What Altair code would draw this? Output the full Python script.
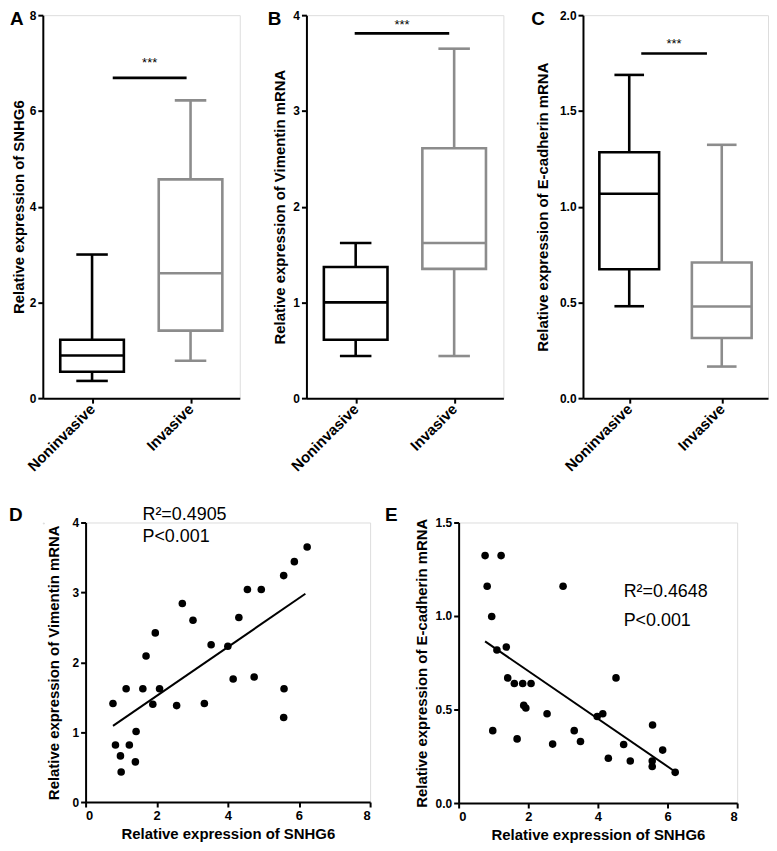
import altair as alt
import pandas as pd

FONT = "Liberation Sans"

# ---------------- box plot data (A, B, C) ----------------
categories = ["Noninvasive", "Invasive"]
cat_pos = [1, 2]
box_colors = ["#000000", "#8c8c8c"]

a_min = [0.36, 0.78]
a_q1 = [0.55, 1.41]
a_med = [0.89, 2.61]
a_q3 = [1.22, 4.57]
a_max = [3.00, 6.22]

b_min = [0.44, 0.44]
b_q1 = [0.61, 1.35]
b_med = [1.00, 1.62]
b_q3 = [1.37, 2.61]
b_max = [1.62, 3.65]

c_min = [0.48, 0.165]
c_q1 = [0.673, 0.314]
c_med = [1.067, 0.479]
c_q3 = [1.284, 0.708]
c_max = [1.688, 1.323]

# significance bars: [x_start, x_end, y_bar, y_stars]
a_sig = [1.21, 1.96, 6.69, 7.0]
b_sig = [0.99, 1.95, 3.81, 3.90]
c_sig = [1.13, 1.84, 1.80, 1.85]

box_half = 0.323
cap_half = 0.16

# ---------------- scatter data (D, E) ----------------
d_x = [0.77, 1.14, 0.84, 0.98, 1.00, 1.23, 1.42, 1.40, 1.61, 1.70, 1.96, 1.89, 2.08,
       2.56, 2.72, 3.02, 3.34, 3.53, 4.00, 4.15, 4.31, 4.55, 4.74, 4.94, 5.57, 5.58,
       5.57, 5.87, 6.23]
d_y = [1.41, 1.62, 0.815, 0.66, 0.43, 0.815, 1.01, 0.575, 1.62, 2.09, 2.42, 1.40, 1.62,
       1.38, 2.84, 2.60, 1.41, 2.25, 2.23, 1.76, 2.64, 3.04, 1.79, 3.04, 3.24, 1.62,
       1.21, 3.44, 3.65]
d_line_x = [0.77, 6.18]
d_line_y = [1.09, 2.98]

e_x = [0.76, 1.22, 0.82, 3.00, 0.95, 1.10, 1.37, 1.41, 1.60, 1.84, 2.08, 1.87, 1.93,
       0.98, 1.68, 2.54, 2.70, 3.32, 3.50, 3.98, 4.14, 4.52, 4.30, 4.74, 4.93, 5.57,
       5.56, 5.56, 5.86, 6.22]
e_y = [1.323, 1.323, 1.159, 1.159, 0.997, 0.818, 0.834, 0.669, 0.639, 0.639, 0.639,
       0.522, 0.508, 0.387, 0.343, 0.477, 0.315, 0.387, 0.329, 0.463, 0.477, 0.669,
       0.239, 0.313, 0.225, 0.417, 0.225, 0.195, 0.283, 0.164]
e_line_x = [0.76, 6.20]
e_line_y = [0.864, 0.170]


def axis_common(**kw):
    base = dict(domainColor="black", domainWidth=2, tickColor="black", tickWidth=2,
                tickSize=5, labelFont=FONT, labelFontWeight="bold", labelFontSize=12,
                labelColor="black", titleFont=FONT, titleFontWeight="bold",
                titleFontSize=15, titleColor="black", grid=False)
    base.update(kw)
    return alt.Axis(**base)


def letter_layer(letter, dx, dy):
    return alt.Chart(pd.DataFrame({"t": [letter]})).mark_text(
        font=FONT, fontWeight="bold", fontSize=19, align="left",
        baseline="alphabetic", color="black"
    ).encode(text="t:N", x=alt.value(dx), y=alt.value(dy))


def box_panel(mins, q1, med, q3, maxs, sig, ymax, yvals, yfmt, ytitle, letter,
              letter_dx, title_pad, width):
    df = pd.DataFrame({
        "cat": categories,
        "pos": cat_pos,
        "left": [p - box_half for p in cat_pos],
        "right": [p + box_half for p in cat_pos],
        "capl": [p - cap_half for p in cat_pos],
        "capr": [p + cap_half for p in cat_pos],
        "vmin": mins, "q1": q1, "med": med, "q3": q3, "vmax": maxs,
    })
    xs = alt.Scale(domain=[0.5, 2.5], nice=False, zero=False)
    ys = alt.Scale(domain=[0, ymax], nice=False)
    label_expr = f"datum.value == 1 ? '{categories[0]}' : '{categories[1]}'"
    xax = axis_common(values=cat_pos, labelExpr=label_expr, labelAngle=-45,
                      labelAlign="right", labelBaseline="middle", labelPadding=3,
                      labelFontSize=15, title=None)
    yax = axis_common(values=yvals, format=yfmt, title=ytitle, titlePadding=title_pad,
                      labelPadding=2)
    col = alt.Color("cat:N", scale=alt.Scale(domain=categories, range=box_colors),
                    legend=None)

    def X(f):
        return alt.X(f, type="quantitative", scale=xs, axis=xax)

    def Y(f):
        return alt.Y(f, type="quantitative", scale=ys, axis=yax)

    base = alt.Chart(df)
    sw = 2.6
    w_up = base.mark_rule(strokeWidth=sw).encode(x=X("pos"), y=Y("q3"), y2="vmax", color=col)
    w_lo = base.mark_rule(strokeWidth=sw).encode(x=X("pos"), y=Y("vmin"), y2="q1", color=col)
    box = base.mark_bar(fill="white", strokeWidth=sw).encode(
        x=X("left"), x2="right", y=Y("q1"), y2="q3", stroke=col)
    median = base.mark_rule(strokeWidth=sw).encode(x=X("left"), x2="right", y=Y("med"), color=col)
    cap_hi = base.mark_rule(strokeWidth=sw).encode(x=X("capl"), x2="capr", y=Y("vmax"), color=col)
    cap_lo = base.mark_rule(strokeWidth=sw).encode(x=X("capl"), x2="capr", y=Y("vmin"), color=col)

    sdf = pd.DataFrame({"x1": [sig[0]], "x2": [sig[1]], "y": [sig[2]],
                        "xm": [(sig[0] + sig[1]) / 2], "ys": [sig[3]], "s": ["***"]})
    sbar = alt.Chart(sdf).mark_rule(strokeWidth=2.6, color="black").encode(
        x=X("x1"), x2="x2", y=Y("y"))
    stars = alt.Chart(sdf).mark_text(font=FONT, fontSize=13, color="black",
                                     baseline="middle").encode(
        x=X("xm"), y=Y("ys"), text="s:N")

    return alt.layer(w_up, w_lo, box, median, cap_hi, cap_lo, sbar, stars,
                     letter_layer(letter, letter_dx, 10)).properties(width=width, height=385)


def scatter_panel(xv, yv, lx, ly, ymax, yvals, yfmt, ytitle, txt_x, txt_y, r2,
                  letter, letter_dx, letter_dy, title_pad, width, height):
    df = pd.DataFrame({"x": xv, "y": yv})
    ldf = pd.DataFrame({"x": lx, "y": ly})
    tdf = pd.DataFrame({"x": [txt_x, txt_x], "y": txt_y, "t": [r2, "P<0.001"]})
    xs = alt.Scale(domain=[0, 8], nice=False)
    ys = alt.Scale(domain=[0, ymax], nice=False)
    xax = axis_common(values=[0, 2, 4, 6, 8], title="Relative expression of SNHG6",
                      labelPadding=3, titlePadding=4, labelFontSize=13)
    yax = axis_common(values=yvals, format=yfmt, title=ytitle, titlePadding=title_pad,
                      labelPadding=2)
    pts = alt.Chart(df).mark_circle(size=58, color="black", opacity=1).encode(
        x=alt.X("x:Q", scale=xs, axis=xax), y=alt.Y("y:Q", scale=ys, axis=yax))
    line = alt.Chart(ldf).mark_line(color="black", strokeWidth=2).encode(
        x=alt.X("x:Q", scale=xs, axis=xax), y=alt.Y("y:Q", scale=ys, axis=yax))
    txt = alt.Chart(tdf).mark_text(font=FONT, fontSize=18, align="left",
                                   baseline="middle", color="black").encode(
        x=alt.X("x:Q", scale=xs, axis=xax), y=alt.Y("y:Q", scale=ys, axis=yax),
        text="t:N")
    layers = [pts, line, txt]
    if letter:
        layers.append(letter_layer(letter, letter_dx, letter_dy))
    return alt.layer(*layers).properties(width=width, height=height)


pA = box_panel(a_min, a_q1, a_med, a_q3, a_max, a_sig, 8, [0, 2, 4, 6, 8], "d",
               "Relative expression of SNHG6", "A", -33, 3, 198)
pB = box_panel(b_min, b_q1, b_med, b_q3, b_max, b_sig, 4, [0, 1, 2, 3, 4], "d",
               "Relative expression of Vimentin mRNA", "B", -39, 5, 198)
pC = box_panel(c_min, c_q1, c_med, c_q3, c_max, c_sig, 2, [0, 0.5, 1, 1.5, 2], ".1f",
               "Relative expression of E-cadherin mRNA", "C", -52, 9, 186)

pD = scatter_panel(d_x, d_y, d_line_x, d_line_y, 4, [0, 1, 2, 3, 4], "d",
                   "Relative expression of Vimentin mRNA", 1.6, [4.11, 3.79],
                   "R\u00b2=0.4905", None, 0, 0, 11, 286, 281)
pE = scatter_panel(e_x, e_y, e_line_x, e_line_y, 1.5, [0, 0.5, 1.0, 1.5], ".1f",
                   "Relative expression of E-cadherin mRNA", 4.74, [1.128, 0.973],
                   "R\u00b2=0.4648", "E", -74, -2, 6, 280, 282)

# panel letter D sits in a narrow cell aligned under panel A's plot origin
spacer_D = alt.Chart(pd.DataFrame({"t": ["D"]})).mark_text(
    font=FONT, fontWeight="bold", fontSize=19, align="left", baseline="alphabetic",
    color="black").encode(text="t:N", x=alt.value(-34), y=alt.value(-2)).properties(
    width=1, height=1)

top = alt.hconcat(pA, pB, pC, spacing=26)
bottom = alt.hconcat(spacer_D, alt.hconcat(pD, pE, spacing=12), spacing=0)

chart = alt.vconcat(top, bottom, spacing=30).properties(
    padding={"left": 0, "top": -2, "right": 0, "bottom": 0}
).configure_view(stroke=None).configure(font=FONT, background="white")

chart.save("out.html", embed_options={"renderer": "svg", "actions": False})
